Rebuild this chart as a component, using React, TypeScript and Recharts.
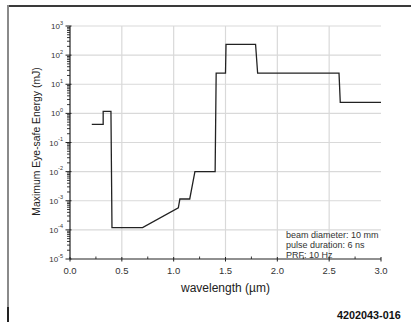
import React from 'react';
import { LineChart, Line, XAxis, YAxis, ReferenceLine } from 'recharts';

// wavelength (µm) and maximum eye-safe energy (mJ)
const wavelength = [0.21, 0.32, 0.32, 0.395, 0.405, 0.70, 1.045, 1.06, 1.155, 1.205, 1.40, 1.41, 1.50, 1.505, 1.79, 1.81, 2.595, 2.607, 3.0];
const energy = [0.42, 0.42, 1.17, 1.17, 1.2e-4, 1.2e-4, 5.7e-4, 1.15e-3, 1.15e-3, 1e-2, 1e-2, 24, 24, 235, 235, 24, 24, 2.4, 2.4];

const xMajorTicks = [0, 0.5, 1.0, 1.5, 2.0, 2.5, 3.0];
const xMinorTicks = [0.25, 0.75, 1.25, 1.75, 2.25, 2.75];
const xGrid = [0.5, 1.0, 1.5, 2.0, 2.5];
const yExponents = [-5, -4, -3, -2, -1, 0, 1, 2, 3];
const yGridExponents = [-4, -3, -2, -1, 0, 1, 2, 3];
const yMinorMultipliers = [2, 3, 4, 5, 6, 7, 8, 9];

const notes = ['beam diameter: 10 mm', 'pulse duration: 6 ns', 'PRF: 10 Hz'];
const xTitle = 'wavelength (\u00b5m)';
const yTitle = 'Maximum Eye-safe Energy (mJ)';
const figureId = '4202043-016';

const data = wavelength.map((w, i) => ({ w, e: energy[i] }));
const xTicks = [...xMajorTicks, ...xMinorTicks].sort((a, b) => a - b);
const yTicks: number[] = [];
yExponents.forEach((p, i) => {
  yTicks.push(Math.pow(10, p));
  if (i < yExponents.length - 1) yMinorMultipliers.forEach((m) => yTicks.push(m * Math.pow(10, p)));
});

const FONT = 'Liberation Sans, Arial, Helvetica, sans-serif';
const INK = '#222';

const YTick = (props: any) => {
  const { x, y, payload } = props;
  const v = payload.value as number;
  const lg = Math.log10(v);
  const exp = Math.round(lg);
  const major = Math.abs(lg - exp) < 1e-6;
  if (!major) return <line x1={x - 3} x2={x} y1={y} y2={y} stroke={INK} strokeWidth={0.9} />;
  return (
    <g>
      <line x1={x - 4.5} x2={x + 1.5} y1={y} y2={y} stroke={INK} strokeWidth={1} />
      <text x={x - 7} y={y + 3} textAnchor="end" fontSize={8} fontFamily={FONT} fill="#333">
        10
        <tspan dy={-4.5} fontSize={5.5}>{exp}</tspan>
      </text>
    </g>
  );
};

const XTick = (props: any) => {
  const { x, y, payload } = props;
  const v = payload.value as number;
  const major = xMajorTicks.some((t) => Math.abs(t - v) < 1e-9);
  if (!major) return <line x1={x} x2={x} y1={y - 2.5} y2={y} stroke={INK} strokeWidth={0.9} />;
  return (
    <g>
      <line x1={x} x2={x} y1={y - 2} y2={y + 2.5} stroke={INK} strokeWidth={1} />
      <text x={x} y={y + 14.5} textAnchor="middle" fontSize={9.5} fontFamily={FONT} fill="#333">
        {v.toFixed(1)}
      </text>
    </g>
  );
};

export default function App() {
  return (
    <div style={{ position: 'absolute', left: 0, top: 0, width: 411, height: 322, background: '#fff', fontFamily: FONT }}>
      <div style={{ position: 'absolute', left: 7, top: 5, width: 404, height: 1.5, background: '#3a3a3a' }} />
      <div style={{ position: 'absolute', left: 7, top: 5, width: 1.5, height: 302, background: '#8a8a8a' }} />
      <div style={{ position: 'absolute', left: 7, top: 307, width: 1.8, height: 15, background: '#222' }} />
      <LineChart width={411} height={322} data={data} margin={{ top: 26, right: 30, bottom: 43, left: 0 }}>
        {xGrid.map((g) => (
          <ReferenceLine key={'xg' + g} x={g} stroke="#d9d9d9" strokeWidth={1.2} />
        ))}
        {yGridExponents.map((p) => (
          <ReferenceLine key={'yg' + p} y={Math.pow(10, p)} stroke="#d9d9d9" strokeWidth={1.2} />
        ))}
        <XAxis
          dataKey="w"
          type="number"
          domain={[0, 3]}
          ticks={xTicks}
          interval={0}
          height={20}
          tickSize={0}
          tickMargin={0}
          tickLine={false}
          axisLine={{ stroke: INK, strokeWidth: 1.2 }}
          tick={<XTick />}
          label={(p: any) => {
            const vb = p.viewBox;
            return (
              <text x={vb.x + vb.width / 2} y={292} textAnchor="middle" fontSize={12} fontFamily={FONT} fill="#222">
                {xTitle}
              </text>
            );
          }}
        />
        <YAxis
          dataKey="e"
          type="number"
          scale="log"
          domain={[1e-5, 1e3]}
          allowDataOverflow
          ticks={yTicks}
          interval={0}
          width={70}
          tickSize={0}
          tickMargin={0}
          tickLine={false}
          axisLine={{ stroke: INK, strokeWidth: 1.2 }}
          tick={<YTick />}
          label={(p: any) => {
            const vb = p.viewBox;
            const cy = vb.y + vb.height / 2 - 1;
            return (
              <text x={39.5} y={cy} transform={`rotate(-90 39.5 ${cy})`} textAnchor="middle" fontSize={10.4} fontFamily={FONT} fill="#222">
                {yTitle}
              </text>
            );
          }}
        />
        <Line
          type="linear"
          dataKey="e"
          stroke={INK}
          strokeWidth={1.3}
          dot={false}
          isAnimationActive={false}
        />
      </LineChart>
      {notes.map((n, i) => (
        <div
          key={n}
          style={{ position: 'absolute', left: 286, top: 230 + i * 9.8, fontSize: 9, lineHeight: '11px', color: '#333', whiteSpace: 'nowrap' }}
        >
          {n}
        </div>
      ))}
      <div style={{ position: 'absolute', left: 337, top: 309, fontSize: 10.8, fontWeight: 'bold', lineHeight: '13px', color: '#111', whiteSpace: 'nowrap' }}>
        {figureId}
      </div>
    </div>
  );
}
